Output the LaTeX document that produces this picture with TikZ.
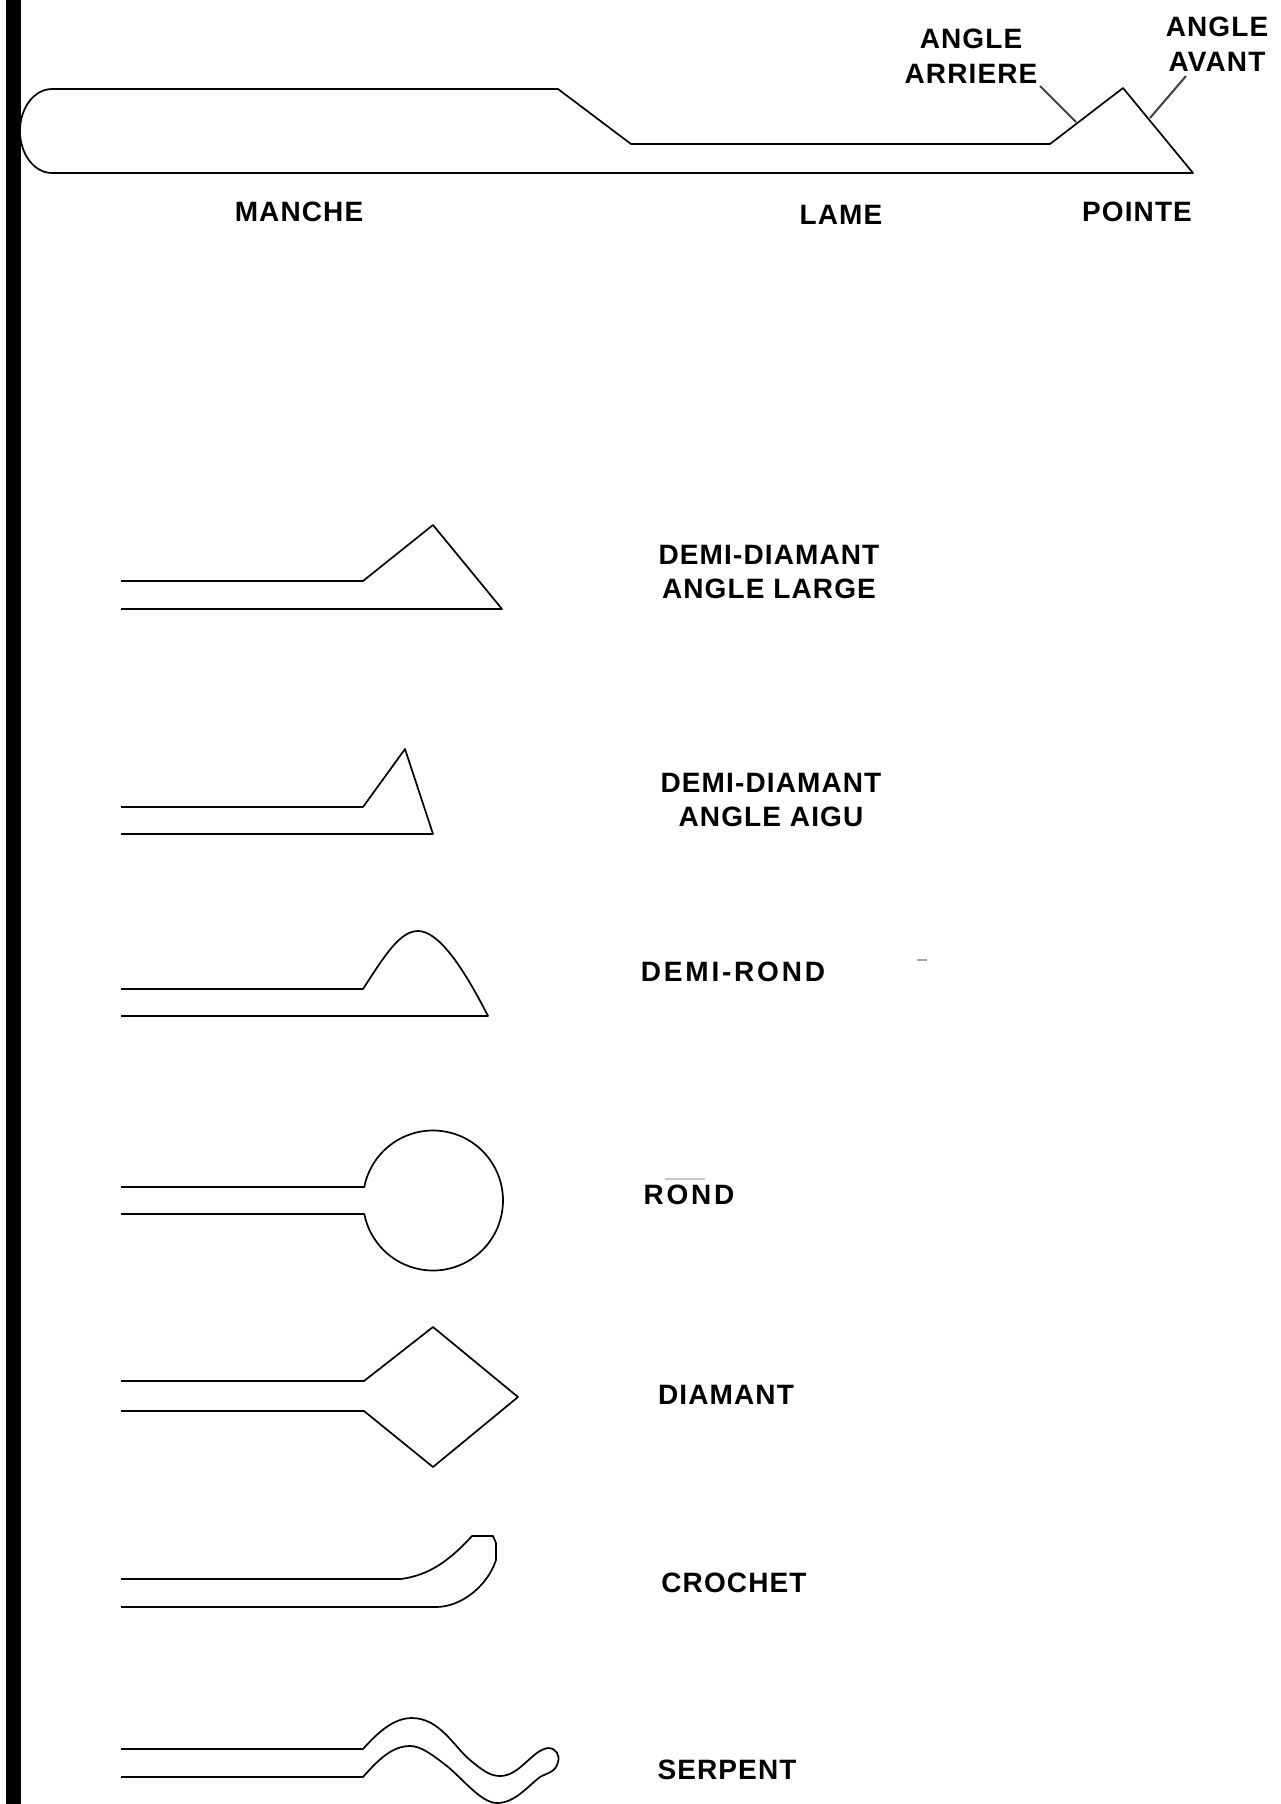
\documentclass[tikz,border=0pt]{standalone}
\usepackage{fontspec}
\newfontfamily\lblfont[LetterSpace=4]{Liberation Sans Bold}
\newfontfamily\lblwidefont[LetterSpace=10]{Liberation Sans Bold}
\begin{document}
\begin{tikzpicture}[x=1pt,y=-1pt,
  outline/.style={draw=black,line width=1.7pt,line join=round},
  leader/.style={draw=black!75,line width=2pt},
  lbl/.style={inner sep=0pt,align=center,text=black,font=\lblfont\fontsize{28}{34.5}\selectfont},
  lblwide/.style={lbl,font=\lblwidefont\fontsize{28}{34.5}\selectfont}]
\useasboundingbox (0,0) rectangle (1281,1804);
% main knife
\draw[outline] (1193,173) -- (52,173) arc[start angle=90,end angle=270,x radius=32,y radius=42]
  -- (558,89) -- (631,144) -- (1050,144) -- (1123,88) -- cycle;
\fill[black] (6,0) rectangle (21,1804);
\coordinate (arrA) at (1040,86);
\coordinate (arrB) at (1076,122);
\coordinate (avA) at (1186,76);
\coordinate (avB) at (1150,118);
\draw[leader] (arrA) -- (arrB);
\draw[leader] (avA) -- (avB);
\node[lbl] (arriere) at (971,56) {ANGLE\\ARRIERE};
\node[lbl] (avant) at (1217,44) {ANGLE\\AVANT};
\node[lbl] (manche) at (299,212) {MANCHE};
\node[lbl] (lame) at (841,215) {LAME};
\node[lbl] (pointe) at (1137,212) {POINTE};
% demi-diamant angle large
\draw[outline] (121,581) -- (363,581) -- (433,525) -- (502,609) -- (121,609);
\node[lbl] (ddlarge) at (769,572) {DEMI-DIAMANT\\ANGLE LARGE};
% demi-diamant angle aigu
\draw[outline] (121,807) -- (363,807) -- (405,749) -- (433,834) -- (121,834);
\node[lbl] (ddaigu) at (771,800) {DEMI-DIAMANT\\ANGLE AIGU};
% demi-rond
\draw[outline] (121,989) -- (363,989) .. controls (385,955) and (400,931) .. (418,931)
  .. controls (438,931) and (462,965) .. (488,1016) -- (121,1016);
\node[lblwide] (demirond) at (733,972) {DEMI-ROND};
\draw[draw=black!35,line width=1.2pt] (917,960) -- (927,960);
% rond
\draw[outline] (121,1187) -- (364.3,1187) arc[start angle=191.12,end angle=528.88,radius=70] -- (121,1214);
\node[lblwide] (rond) at (689,1195) {ROND};
\draw[draw=black!22,line width=1.2pt] (665,1179) -- (705,1179);
% diamant
\draw[outline] (121,1381) -- (364,1381) -- (433,1327) -- (518,1397) -- (433,1467) -- (364,1411) -- (121,1411);
\node[lbl] (diamant) at (726,1395) {DIAMANT};
% crochet
\draw[outline] (121,1579) -- (401,1579) .. controls (430,1575) and (450,1560) .. (472,1536) -- (493,1536) -- (496,1543) -- (496,1560)
  .. controls (488,1585) and (462,1607) .. (436,1607) -- (121,1607);
\node[lbl] (crochet) at (734,1583) {CROCHET};
% serpent
\draw[outline] (121,1749) -- (363,1749) .. controls (380,1730) and (395,1718) .. (412,1718)
  .. controls (440,1718) and (455,1748) .. (470,1760)
  .. controls (482,1770) and (490,1776) .. (500,1776)
  .. controls (520,1776) and (532,1750) .. (548,1748)
  .. controls (556,1748) and (560,1755) .. (558,1762)
  .. controls (556,1772) and (547,1773) .. (540,1777)
  .. controls (528,1786) and (515,1803) .. (497,1803)
  .. controls (480,1803) and (460,1775) .. (443,1763)
  .. controls (430,1753) and (420,1746) .. (410,1746)
  .. controls (392,1746) and (378,1760) .. (363,1777) -- (121,1777);
\node[lbl] (serpent) at (727,1770) {SERPENT};
\end{tikzpicture}
\end{document}
